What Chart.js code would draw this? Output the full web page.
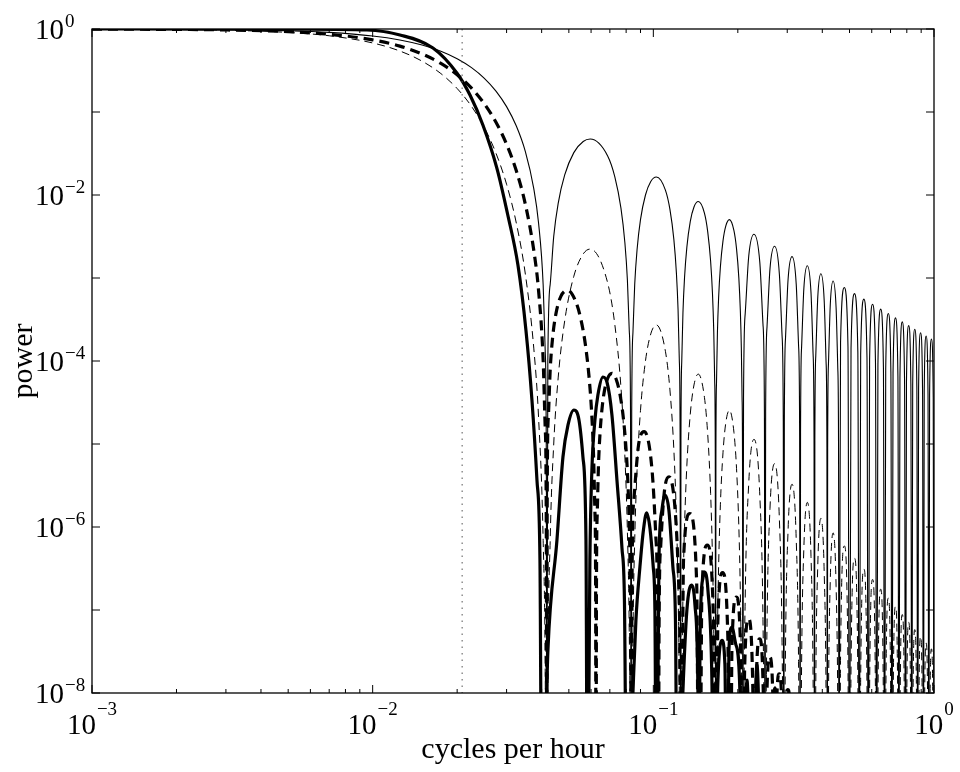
<!DOCTYPE html>
<html>
<head>
<meta charset="utf-8">
<script src="https://cdn.jsdelivr.net/npm/chart.js@4.4.1/dist/chart.umd.min.js"></script>
<style>
html,body{margin:0;padding:0;background:#fff;}
#wrap{width:960px;height:772px;}
</style>
</head>
<body>
<div id="wrap"><canvas id="c" width="960" height="772"></canvas></div>
<script>
// ---------------- data ----------------
// frequency grid (cycles per hour) for the 24-h running-mean curves
const boxcarFreq = [
 0.001,0.002,0.003,0.005,0.007,0.01,0.0125,0.015,0.0175,0.02,0.0225,0.025,0.0275,0.03,0.0325,0.035,0.0375,0.039,0.0405,0.0412,0.0416,0.041667,
 0.042083,0.042917,0.044167,0.045833,0.048333,0.052083,0.05625,0.059583,0.06875,0.072917,0.076667,0.079167,0.080833,0.082083,0.082917,0.083333,
 0.08375,0.084583,0.085833,0.0875,0.09,0.09375,0.097917,0.1025,0.110417,0.114583,0.118333,0.120833,0.1225,0.12375,0.124583,0.125,
 0.125417,0.12625,0.1275,0.129167,0.131667,0.135417,0.139583,0.144583,0.152083,0.15625,0.16,0.1625,0.164167,0.165417,0.16625,0.166667,
 0.167083,0.167917,0.169167,0.170833,0.173333,0.177083,0.18125,0.186667,0.19375,0.197917,0.201667,0.204167,0.205833,0.207083,0.207917,0.208333,
 0.209583,0.2125,0.21875,0.228333,0.239583,0.245833,0.24875,0.25,
 0.25125,0.254167,0.260417,0.270417,0.28125,0.2875,0.290417,0.291667,
 0.292917,0.295833,0.302083,0.312083,0.322917,0.329167,0.332083,0.333333,
 0.334583,0.3375,0.34375,0.35375,0.364583,0.370833,0.37375,0.375,
 0.37625,0.379167,0.385417,0.395417,0.40625,0.4125,0.415417,0.416667,
 0.417917,0.420833,0.427083,0.437083,0.447917,0.454167,0.457083,0.458333,
 0.464583,0.479167,0.49375,0.5,
 0.50625,0.520833,0.535417,0.541667,
 0.547917,0.5625,0.577083,0.583333,
 0.589583,0.604167,0.61875,0.625,
 0.63125,0.645833,0.660417,0.666667,
 0.672917,0.6875,0.702083,0.708333,
 0.714583,0.729167,0.74375,0.75,
 0.75625,0.770833,0.785417,0.791667,
 0.797917,0.8125,0.827083,0.833333,
 0.839583,0.854167,0.86875,0.875,
 0.88125,0.895833,0.910417,0.916667,
 0.922917,0.9375,0.952083,0.958333,
 0.964583,0.979167,0.99375,1.0
];
// thin solid curve
const boxcarPower = [
 0.9981,0.9924,0.983,0.9535,0.9104,0.8241,0.7369,0.64,0.5389,0.438,0.3421,0.2546,0.1786,0.116,0.06767,0.03333,0.01195,0.0046,8.28e-4,1.28e-4,2.56e-6,1e-10,
 9.8e-5,8.47e-4,3.17e-3,8.0e-3,0.01748,0.0324,0.04413,0.0472,0.02955,0.01654,6.95e-3,2.68e-3,9.45e-4,2.32e-4,2.53e-5,1e-10,
 2.48e-5,2.18e-4,8.38e-4,2.19e-3,5.04e-3,0.01,0.01457,0.01648,0.01145,6.70e-3,2.92e-3,1.15e-3,4.11e-4,1.02e-4,1.12e-5,1e-10,
 1.10e-5,9.79e-5,3.80e-4,1.007e-3,2.355e-3,4.80e-3,7.17e-3,8.34e-3,6.04e-3,3.60e-3,1.595e-3,6.36e-4,2.29e-4,5.70e-5,6.3e-6,1e-10,
 6.2e-6,5.53e-5,2.16e-4,5.76e-4,1.359e-3,2.80e-3,4.25e-3,5.05e-3,3.72e-3,2.245e-3,1.004e-3,4.03e-4,1.457e-4,3.64e-5,4.0e-6,1e-10,
 3.55e-5,3.72e-4,1.838e-3,3.37e-3,1.532e-3,2.78e-4,2.52e-5,1e-10,
 2.47e-5,2.60e-4,1.297e-3,2.41e-3,1.112e-3,2.03e-4,1.85e-5,1e-10,
 1.82e-5,1.92e-4,9.64e-4,1.81e-3,8.43e-4,1.55e-4,1.41e-5,1e-10,
 1.39e-5,1.475e-4,7.44e-4,1.406e-3,6.62e-4,1.22e-4,1.12e-5,1e-10,
 1.10e-5,1.168e-4,5.92e-4,1.125e-3,5.33e-4,9.87e-5,9.0e-6,1e-10,
 8.9e-6,9.49e-5,4.82e-4,9.2e-4,4.38e-4,8.14e-5,7.5e-6,1e-10,
 1.68e-4,7.67e-4,1.487e-4,1e-10,
 1.415e-4,6.49e-4,1.265e-4,1e-10,
 1.208e-4,5.57e-4,1.089e-4,1e-10,
 1.043e-4,4.83e-4,9.47e-5,1e-10,
 9.10e-5,4.22e-4,8.31e-5,1e-10,
 8.01e-5,3.73e-4,7.35e-5,1e-10,
 7.10e-5,3.31e-4,6.55e-5,1e-10,
 6.34e-5,2.96e-4,5.88e-5,1e-10,
 5.69e-5,2.67e-4,5.30e-5,1e-10,
 5.14e-5,2.41e-4,4.80e-5,1e-10,
 4.67e-5,2.19e-4,4.37e-5,1e-10,
 4.26e-5,2.0e-4,4.0e-5,1e-10,
 3.90e-5,1.84e-4,3.67e-5,1e-10
];
// thin dashed curve (same frequency grid)
const doubleBoxcarPower = [
 0.9962,0.9849,0.9663,0.9092,0.8288,0.6791,0.543,0.4096,0.2904,0.1918,0.117,0.0648,0.0319,0.01346,0.00458,0.00111,1.43e-4,2.1e-5,6.9e-7,1.6e-8,1e-11,1e-12,
 9.6e-9,7.17e-7,1.0e-5,6.4e-5,3.06e-4,1.05e-3,1.947e-3,2.23e-3,8.73e-4,2.74e-4,4.83e-5,7.18e-6,8.93e-7,5.4e-8,6.4e-10,1e-12,
 6.2e-10,4.75e-8,7.02e-7,4.8e-6,2.54e-5,1.0e-4,2.12e-4,2.72e-4,1.31e-4,4.49e-5,8.53e-6,1.32e-6,1.69e-7,1.04e-8,1.25e-10,1e-12,
 1.21e-10,9.6e-9,1.44e-7,1.01e-6,5.55e-6,2.30e-5,5.14e-5,6.96e-5,3.65e-5,1.30e-5,2.54e-6,4.04e-7,5.24e-8,3.2e-9,4e-11,1e-12,
 3.8e-11,3.06e-9,4.67e-8,3.32e-7,1.85e-6,7.84e-6,1.81e-5,2.55e-5,1.38e-5,5.04e-6,1.01e-6,1.62e-7,2.12e-8,1.3e-9,1.6e-11,1e-12,
 1.26e-9,1.38e-7,3.38e-6,1.14e-5,2.35e-6,7.7e-8,6.4e-10,1e-12,
 6.1e-10,6.8e-8,1.68e-6,5.8e-6,1.24e-6,4.1e-8,3.4e-10,1e-12,
 3.3e-10,3.7e-8,9.3e-7,3.28e-6,7.1e-7,2.4e-8,2.0e-10,1e-12,
 1.9e-10,2.2e-8,5.5e-7,1.98e-6,4.4e-7,1.5e-8,1.25e-10,1e-12,
 1.2e-10,1.36e-8,3.5e-7,1.27e-6,2.84e-7,9.7e-9,8.1e-11,1e-12,
 7.9e-11,9.0e-9,2.32e-7,8.5e-7,1.92e-7,6.6e-9,5.6e-11,1e-12,
 2.82e-8,5.9e-7,2.21e-8,1e-12,
 2.0e-8,4.2e-7,1.6e-8,1e-12,
 1.46e-8,3.1e-7,1.19e-8,1e-12,
 1.09e-8,2.33e-7,8.97e-9,1e-12,
 8.3e-9,1.78e-7,6.9e-9,1e-12,
 6.4e-9,1.39e-7,5.4e-9,1e-12,
 5.0e-9,1.10e-7,4.3e-9,1e-12,
 4.0e-9,8.8e-8,3.5e-9,1e-12,
 3.2e-9,7.1e-8,2.8e-9,1e-12,
 2.6e-9,5.8e-8,2.3e-9,1e-12,
 2.2e-9,4.8e-8,1.9e-9,1e-12,
 1.8e-9,4.0e-8,1.6e-9,1e-12,
 1.5e-9,3.4e-8,1.35e-9,1e-12
];
// thick dashed curve
const hannFreq = [
 0.001,0.002,0.003,0.005,0.007,0.01,0.0125,0.015,0.0175,0.02,0.0225,0.025,0.0275,0.03,0.0325,0.035,0.0375,0.039,0.0405,0.0412,0.0416,0.041667,
 0.041875,0.042292,0.042917,0.04375,0.045,0.046875,0.049583,0.053125,0.055208,0.057292,0.059167,0.060417,0.06125,0.061875,0.062292,0.0625,
 0.062708,0.063125,0.06375,0.064583,0.065833,0.067708,0.07125,0.073958,0.076042,0.078125,0.08,0.08125,0.082083,0.082708,0.083125,0.083333,
 0.083958,0.085417,0.088542,0.092708,0.098958,0.102083,0.103542,0.104167,
 0.104792,0.10625,0.109375,0.11375,0.119792,0.122917,0.124375,0.125,
 0.128125,0.134792,0.142708,0.145833,
 0.148958,0.155625,0.163542,0.166667,
 0.169792,0.176458,0.184375,0.1875,
 0.190625,0.1975,0.205208,0.208333,
 0.211458,0.218333,0.226042,0.229167,
 0.232292,0.239167,0.246875,0.25,
 0.253125,0.26,0.267708,0.270833,
 0.273958,0.280833,0.288542,0.291667,
 0.294792,0.301667,0.309375,0.3125
];
const hannPower = [
 0.99702,0.98817,0.9736,0.928,0.8638,0.7395,0.6216,0.5002,0.3847,0.2809,0.194,0.1255,0.07521,0.0409,0.01955,0.00771,0.002153,7.07e-4,1.02e-4,1.51e-5,2.9e-7,1e-11,
 2.68e-6,2.24e-5,7.96e-5,1.887e-4,3.75e-4,6.06e-4,7.1e-4,5.02e-4,3.16e-4,1.556e-4,5.84e-5,2.10e-5,7.04e-6,1.67e-6,1.77e-7,1e-11,
 1.7e-7,1.46e-6,5.43e-6,1.358e-5,2.92e-5,5.24e-5,7.1e-5,5.83e-5,3.98e-5,2.11e-5,8.44e-6,3.15e-6,1.09e-6,2.6e-7,2.8e-8,1e-11,
 2.38e-7,2.30e-6,9.63e-6,1.41e-5,4.83e-6,7.61e-7,6.5e-8,1e-11,
 6.0e-8,5.95e-7,2.60e-6,4.03e-6,1.49e-6,2.43e-7,2.1e-8,1e-11,
 4.07e-7,1.45e-6,2.11e-7,1e-11,
 1.63e-7,6.05e-7,9.2e-8,1e-11,
 7.3e-8,2.82e-7,4.46e-8,1e-11,
 3.65e-8,1.43e-7,2.33e-8,1e-11,
 1.95e-8,7.8e-8,1.3e-8,1e-11,
 1.1e-8,4.5e-8,7.7e-9,1e-11,
 6.6e-9,2.7e-8,4.7e-9,1e-11,
 4.2e-9,1.7e-8,3.0e-9,1e-11,
 2.7e-9,1.1e-8,2.0e-9,1e-11
];
// thick solid curve
const lowpassFreq = [
 0.001,0.003,0.0055,0.00954,0.01251,0.0164,0.01995,0.02222,0.0247,0.0277,0.0303,0.03293,0.03516,0.03694,0.03849,0.03945,0.04009,
 0.04212,0.04535,0.04764,0.04964,0.05214,0.05433,0.05613,0.05754,0.05824,
 0.05942,0.06041,0.06194,0.06346,0.06612,0.06834,0.0712,0.07419,0.07731,0.07889,0.08052,
 0.08459,0.0867,0.08958,0.0922,0.09465,0.09725,0.09991,0.1013,0.1026,
 0.1047,0.1073,0.11,0.1136,0.1174,0.1199,0.1218,
 0.1274,0.1317,0.1367,0.1407,0.1442,0.1454,
 0.1466,0.1502,0.1521,0.1565,0.1617,0.1644,
 0.1699,0.1756,0.1799,0.1829,
 0.1859,0.1905,0.1969,0.2035,0.2052,
 0.2156,0.2246,
 0.2339,0.2457,
 0.2711,0.2825
];
const lowpassPower = [
 1.0,0.999,0.995,0.972,0.847,0.59,0.295,0.16,0.0697,0.0211,5.74e-3,1.43e-3,2.36e-4,3.39e-5,3.68e-6,4.0e-7,1e-10,
 3.3e-8,6.97e-7,6.97e-6,1.69e-5,2.57e-5,1.95e-5,6.97e-6,6.97e-7,1e-10,
 4.0e-7,4.86e-6,1.95e-5,3.89e-5,6.41e-5,5.58e-5,2.24e-5,3.68e-6,5.58e-7,1.32e-7,1e-10,
 1.0e-8,7.6e-8,3.3e-7,9.2e-7,1.48e-6,9.7e-7,3.3e-7,1.0e-7,1e-10,
 4.0e-7,1.6e-6,2.43e-6,1.6e-6,3.3e-7,7.6e-8,1e-10,
 1.0e-8,1.0e-7,2.0e-7,1.15e-7,1.0e-8,1e-10,
 4.3e-8,2.43e-7,2.87e-7,1.74e-7,1.43e-8,1e-10,
 1.43e-8,4.3e-8,2.2e-8,1e-10,
 3.3e-8,6.2e-8,3.8e-8,1.0e-8,1e-10,
 1.43e-8,1e-10,
 2.2e-8,1e-10,
 1.15e-8,1e-10
];
// vertical dotted line (cutoff frequency, 1/48 cph)
const cutoffFreq = [0.020833, 0.020833];
const cutoffPower = [1, 1e-8];

// axis ticks and tick labels
const xTickValues = [0.001, 0.01, 0.1, 1];
const xTickBase = ['10', '10', '10', '10'];
const xTickExp = ['\u22123', '\u22122', '\u22121', '0'];
const xMinorTicks = [0.002,0.003,0.004,0.005,0.006,0.007,0.008,0.009,
                     0.02,0.03,0.04,0.05,0.06,0.07,0.08,0.09,
                     0.2,0.3,0.4,0.5,0.6,0.7,0.8,0.9];
const yDecadeTicks = [1e-8,1e-7,1e-6,1e-5,1e-4,1e-3,1e-2,1e-1,1];
const yTickValues = [1e-8, 1e-6, 1e-4, 1e-2, 1];
const yTickBase = ['10', '10', '10', '10', '10'];
const yTickExp = ['\u22128', '\u22126', '\u22124', '\u22122', '0'];

// ---------------- chart ----------------
const toPts = (fx, py) => fx.map((f, i) => ({x: f, y: py[i]}));
const SERIF = "'Liberation Serif','Times New Roman',serif";

const framePlugin = {
  id: 'frame',
  afterDatasetsDraw(chart) {
    const {ctx, chartArea: a, scales: {x, y}} = chart;
    ctx.save();
    ctx.strokeStyle = '#000';
    ctx.lineWidth = 1.3;
    ctx.strokeRect(a.left, a.top, a.right - a.left, a.bottom - a.top);
    ctx.beginPath();
    xTickValues.forEach(v => {
      const p = x.getPixelForValue(v);
      ctx.moveTo(p, a.bottom); ctx.lineTo(p, a.bottom - 8);
      ctx.moveTo(p, a.top); ctx.lineTo(p, a.top + 8);
    });
    xMinorTicks.forEach(v => {
      const p = x.getPixelForValue(v);
      ctx.moveTo(p, a.bottom); ctx.lineTo(p, a.bottom - 4);
      ctx.moveTo(p, a.top); ctx.lineTo(p, a.top + 4);
    });
    yDecadeTicks.forEach(v => {
      const p = y.getPixelForValue(v);
      ctx.moveTo(a.left, p); ctx.lineTo(a.left + 8, p);
      ctx.moveTo(a.right, p); ctx.lineTo(a.right - 8, p);
    });
    ctx.lineWidth = 1;
    ctx.stroke();
    ctx.restore();
  }
};

// tick labels as base "10" with a raised exponent, placed with the scales
const tickLabelPlugin = {
  id: 'tickLabels',
  afterDraw(chart) {
    const {ctx, chartArea: a, scales: {x, y}} = chart;
    const baseFont = '29px ' + SERIF, expFont = '19px ' + SERIF;
    ctx.save();
    ctx.fillStyle = '#000';
    ctx.textBaseline = 'alphabetic';
    yTickValues.forEach((v, i) => {
      const py = y.getPixelForValue(v);
      ctx.font = baseFont; ctx.textAlign = 'right';
      ctx.fillText(yTickBase[i], a.left - 28, py + 10);
      ctx.font = expFont; ctx.textAlign = 'left';
      ctx.fillText(yTickExp[i], a.left - 27, py - 2);
    });
    xTickValues.forEach((v, i) => {
      const px = x.getPixelForValue(v);
      ctx.font = baseFont; const wb = ctx.measureText(xTickBase[i]).width;
      ctx.font = expFont; const we = ctx.measureText(xTickExp[i]).width;
      const left = px - (wb + 1 + we) / 2;
      ctx.textAlign = 'left';
      ctx.font = baseFont; ctx.fillText(xTickBase[i], left, a.bottom + 41);
      ctx.font = expFont; ctx.fillText(xTickExp[i], left + wb + 1, a.bottom + 22);
    });
    ctx.restore();
  }
};

const common = {pointRadius: 0, pointHoverRadius: 0, fill: false, cubicInterpolationMode: 'monotone', borderColor: '#000'};

new Chart(document.getElementById('c'), {
  type: 'line',
  data: {
    datasets: [
      {label: 'cutoff', data: toPts(cutoffFreq, cutoffPower), borderWidth: 1, borderDash: [1.5, 5], borderColor: '#555', pointRadius: 0, tension: 0, fill: false},
      Object.assign({}, common, {label: 'running mean', data: toPts(boxcarFreq, boxcarPower), borderWidth: 1.1}),
      Object.assign({}, common, {label: 'double running mean', data: toPts(boxcarFreq, doubleBoxcarPower), borderWidth: 1, borderDash: [8, 5]}),
      Object.assign({}, common, {label: 'Hann', data: toPts(hannFreq, hannPower), borderWidth: 3.2, borderDash: [10, 6]}),
      Object.assign({}, common, {label: 'low-pass', data: toPts(lowpassFreq, lowpassPower), borderWidth: 3.2})
    ]
  },
  options: {
    responsive: false,
    animation: false,
    devicePixelRatio: 1,
    layout: {padding: {left: 0, right: 26, top: 29, bottom: 0}},
    plugins: {legend: {display: false}, tooltip: {enabled: false}},
    elements: {line: {borderCapStyle: 'butt'}},
    scales: {
      x: {
        type: 'logarithmic', min: 0.001, max: 1,
        afterBuildTicks: s => { s.ticks = xTickValues.map(v => ({value: v})); },
        afterFit: s => { s.height = 79; },
        grid: {display: false, drawTicks: false},
        border: {display: false},
        ticks: {display: false},
        title: {display: true, text: 'cycles per hour', color: '#000', font: {family: SERIF, size: 30}, padding: {top: 0, bottom: 4}}
      },
      y: {
        type: 'logarithmic', min: 1e-8, max: 1,
        afterBuildTicks: s => { s.ticks = yTickValues.map(v => ({value: v})); },
        afterFit: s => { s.width = 92; },
        grid: {display: false, drawTicks: false},
        border: {display: false},
        ticks: {display: false},
        title: {display: true, text: 'power', color: '#000', font: {family: SERIF, size: 30}, padding: {top: 6, bottom: 0}}
      }
    }
  },
  plugins: [framePlugin, tickLabelPlugin]
});
</script>
</body>
</html>
